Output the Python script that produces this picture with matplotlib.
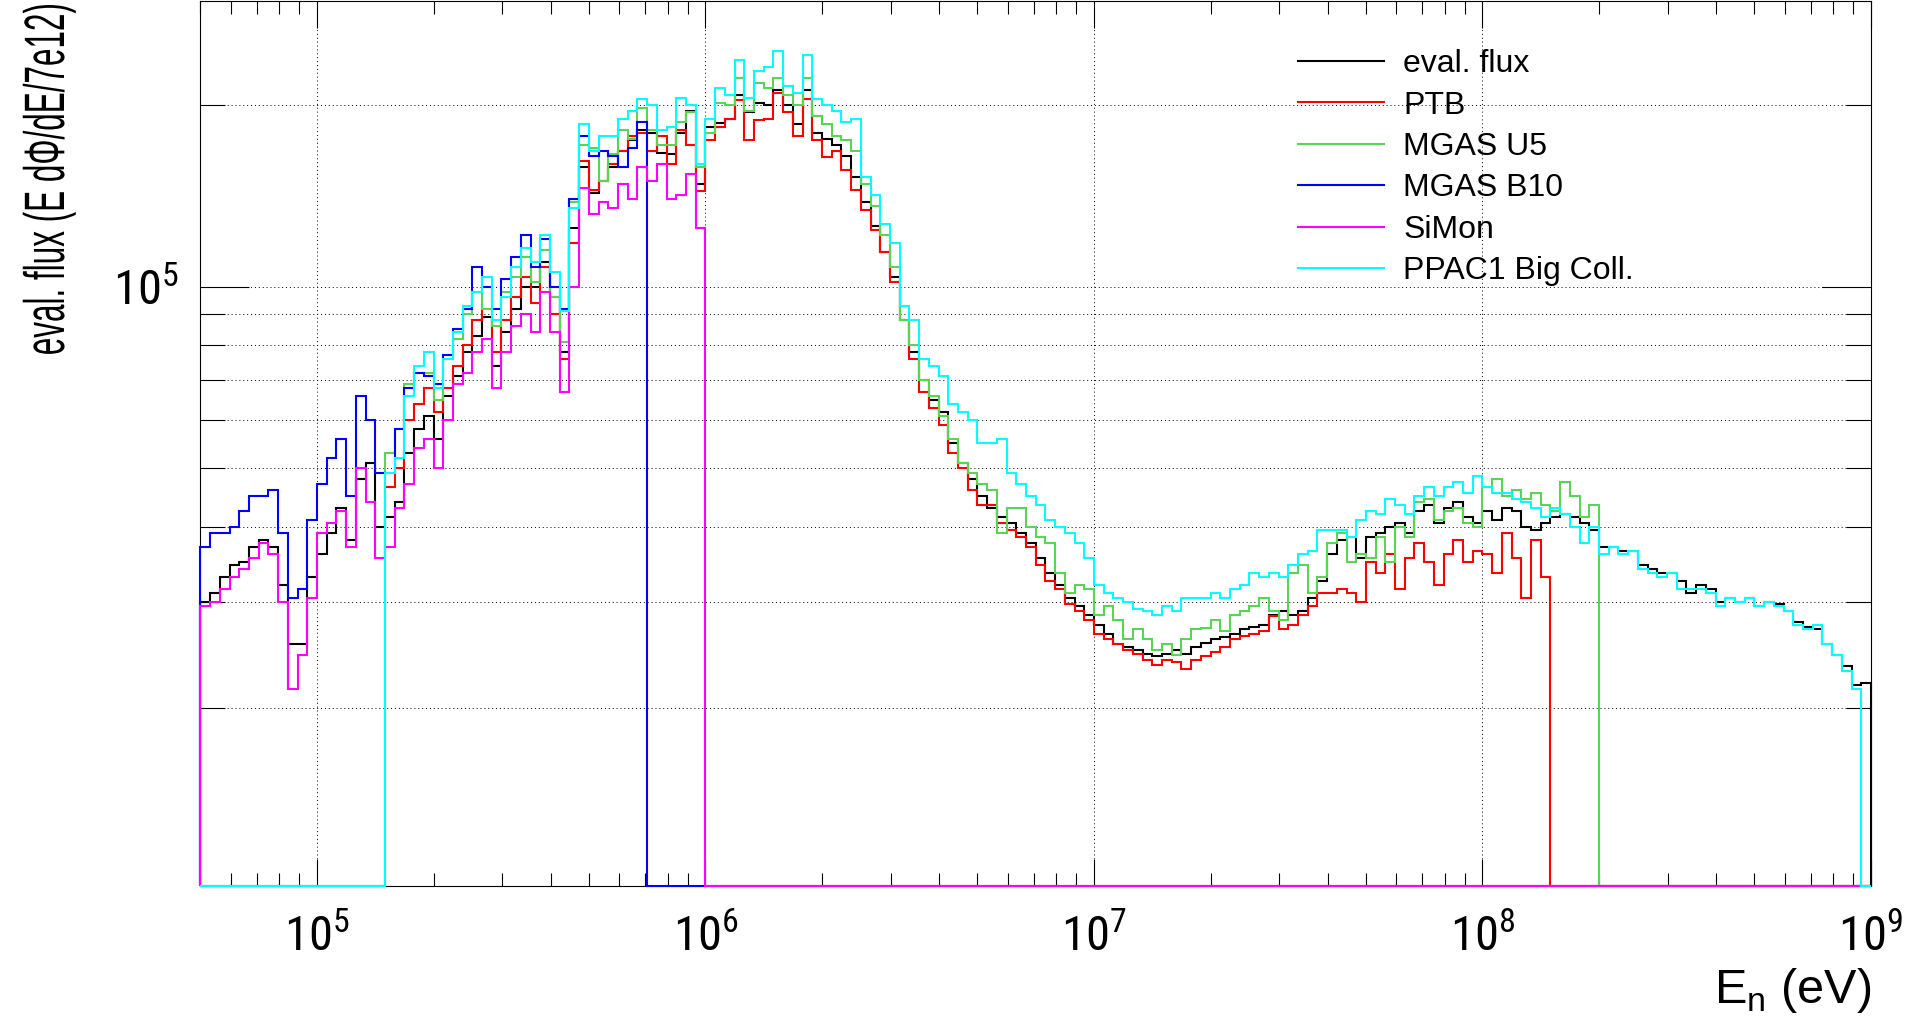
import numpy as np
import matplotlib
matplotlib.use("Agg")
import matplotlib.pyplot as plt
from matplotlib import font_manager
from matplotlib.lines import Line2D
from matplotlib.patheffects import AbstractPathEffect
from matplotlib.transforms import Affine2D

# binning of the flux histograms: 40 log bins per decade, 10^4.7 .. 10^9 eV
first_exp = 4.7
last_exp = 9.0
bins_per_decade = 40

# all flux values below are in units of 1e3
eval_flux = [
    30, 31, 33, 34.5, 35, 37, 38, 37, 32, 25.5, 25.5, 33,
    36, 39, 43, 38, 48, 51, 40, 41.5, 44, 53, 58, 61, 56, 66, 71, 78, 83, 89, 74, 84,
    92, 100, 100, 110, 96, 78, 125, 158, 143, 150, 158, 168, 175, 182, 180, 167, 166, 180, 196, 148,
    184, 187, 190, 208, 195, 202, 200, 212, 200, 186, 212, 180, 176, 172, 165, 152, 138, 126, 114, 104,
    88, 78, 70, 65, 62, 55, 51, 48, 45, 43, 41.5, 40.5, 39, 37.5, 35.5, 33.5, 32, 30.5, 29.5, 28.5,
    27.5, 26.5, 25.5, 25.2, 25, 24.6, 24.4, 24.6, 25, 24.6, 25.2, 25.6, 26, 26.2, 26.5, 27, 27.3, 27.5, 28.5, 29,
    28.5, 29, 30.5, 32.5, 36, 38, 38.5, 35.5, 38.5, 39, 40, 40.5, 39, 42.5, 43.5, 40.5, 43, 44, 41.5, 40.5,
    42.5, 41, 43, 42.5, 40, 39.5, 40.5, 41.5, 42, 41.5, 40.5, 39.5, 37, 37, 36.5, 36.5, 34.5, 34, 33.5, 33.5,
    32.5, 31, 32, 31.5, 30, 30.5, 30, 30.5, 29.5, 30, 29.8, 29, 27.8, 27.3, 27, 25.5, 24.5, 23.5, 21.8, 22,
]

ptb_start = 19
ptb = [
    46.5, 50, 60, 64, 68, 62, 68, 74, 80, 88, 92, 78, 88,
    96, 104, 94, 108, 90, 76, 118, 162, 145, 150, 160, 168, 178, 180, 168, 178, 160, 182, 172, 144,
    175, 184, 190, 204, 175, 189, 190, 210, 195, 178, 205, 175, 164, 168, 156, 145, 134, 124, 114, 102,
    88, 76, 67, 63, 59, 53, 50, 46, 43.5, 43.5, 40.5, 39.5, 38.5, 37, 34.5, 32.5, 31.5, 29.8, 29, 28,
    26.5, 26, 25.5, 25, 24.6, 24, 23.6, 24, 23.8, 23.2, 24, 24.4, 24.8, 25.2, 26, 26.3, 26.5, 26.8, 28.4, 27,
    27.5, 28.5, 29.5, 31, 31, 31.5, 31, 30, 35, 33.5, 36, 31.5, 35.5, 37.5, 35, 32, 36, 38, 35, 36.5,
    36, 33.5, 39, 35.5, 30.5, 38, 33,
]

mgas_u5_start = 19
mgas_u5 = [
    53, 58, 69, 72, 72, 65, 76, 82, 90, 98, 92, 86, 98,
    104, 112, 102, 115, 96, 81, 138, 172, 170, 150, 166, 182, 176, 198, 182, 172, 172, 188, 195, 158,
    180, 202, 200, 222, 196, 218, 214, 222, 208, 200, 222, 192, 186, 178, 175, 168, 148, 136, 122, 108,
    88, 80, 70, 66, 61, 56, 51, 49, 47, 46, 39, 43, 43, 40, 38.5, 37.5, 33.5, 31, 32, 31.5,
    28.5, 29.5, 28, 26, 27, 26, 25, 25.5, 24.5, 26, 27, 27.2, 28, 26.8, 28.5, 29, 29.5, 30.5, 29, 28,
    33.5, 34.5, 31, 33, 37.5, 39, 35, 36, 35.5, 38.5, 35, 40, 38.5, 44, 44.5, 41, 42.5, 43, 40.5, 40,
    46.5, 48, 45, 46, 44.5, 45.5, 43.5, 42.5, 47.5, 45, 41.5, 43.5,
]

mgas_b10_start = 0
mgas_b10 = [
    37, 39, 39, 40, 42.5, 45, 45, 46, 39, 30.5, 31.5, 41,
    47, 52, 56, 45, 66, 60, 49, 49, 58, 68, 72, 71, 69, 77, 85, 92, 108, 100, 92, 103,
    112, 122, 108, 120, 100, 92, 140, 178, 165, 168, 165, 158, 170, 188,
]

simon_start = 0
simon = [
    29.5, 30, 31.5, 33, 34, 35.5, 37.5, 36, 30, 21.5, 24.5, 30.5,
    39, 40.5, 42.5, 37, 50, 44, 35.5, 37, 43, 47, 54, 56, 50, 60, 69, 72, 78, 82, 68, 78,
    86, 90, 84, 98, 84, 67, 100, 146, 132, 138, 135, 148, 140, 158, 150, 160, 140, 142, 154, 125,
]

ppac_start = 19
ppac = [
    49, 52, 66, 74, 78, 68, 76, 84, 93, 98, 104, 88, 96,
    108, 116, 110, 122, 106, 91, 135, 186, 168, 178, 178, 190, 196, 205, 200, 182, 184, 206, 200, 160,
    190, 214, 208, 238, 206, 228, 232, 246, 215, 210, 242, 205, 200, 196, 188, 190, 152, 142, 127, 118,
    93, 88, 76, 74, 71, 64, 62, 60, 55, 55, 56, 49, 47, 45, 43.5, 41, 40, 39, 37.5, 35.5,
    32, 31, 30.5, 30, 29.2, 29, 28.5, 29.5, 29, 30.5, 30.5, 30.5, 31, 30.5, 31.5, 32, 33.5, 33, 33.5, 33,
    34.5, 36, 36.5, 39.5, 39.5, 39.5, 38.5, 41, 42.5, 42, 44.5, 43.5, 42, 45, 46.5, 45, 46.5, 47.5, 45.5, 48.5,
    46.5, 45.5, 45.5, 44.5, 44, 43, 41.5, 43, 42, 40, 37.5, 40, 36, 37, 36, 36.5, 34, 33.5, 33, 33.5,
    31.5, 31.5, 31.5, 31, 29.5, 30.5, 30, 30.5, 29.5, 30, 29.5, 29, 27.5, 27, 27.5, 25.5, 24.5, 23, 21.5,
]

names = ["eval. flux", "PTB", "MGAS U5", "MGAS B10", "SiMon", "PPAC1 Big Coll."]
colors = ["#000000", "#ff0000", "#59d454", "#0000ff", "#ff00ff", "#00ffff"]

x_range = (5e4, 1e9)
y_range = (1.013e4, 2.98e5)


# look for a narrow sans font (the reference uses tall, narrow tick labels)
def find_font(wanted):
    for name, stretch in wanted:
        for f in font_manager.fontManager.ttflist:
            if f.name != name or f.style != "normal":
                continue
            if str(f.weight) not in ("400", "normal", "regular", "book"):
                continue
            if stretch is None or f.stretch == stretch:
                return f
    return None


class Tall(AbstractPathEffect):
    """Draw text glyphs stretched perpendicular to the baseline."""

    def __init__(self, factor):
        super().__init__()
        self.factor = factor

    def draw_path(self, renderer, gc, tpath, affine, rgbFace=None):
        renderer.draw_path(gc, tpath, Affine2D().scale(1, self.factor) + affine, rgbFace)


tick_font = find_font([("Liberation Sans Narrow", None), ("Roboto Condensed", None),
                       ("Noto Sans", "condensed"), ("Noto Sans", "semi-condensed"),
                       ("Open Sans Condensed", None), ("Noto Sans", "extra-condensed")])

plt.rcParams["font.family"] = ["Liberation Sans", "DejaVu Sans"]
plt.rcParams["mathtext.fontset"] = "custom"
plt.rcParams["mathtext.sf"] = "Liberation Sans"
plt.rcParams["mathtext.rm"] = "Liberation Sans"
tick_fs = 32
if tick_font is not None:
    try:
        pat = tick_font.name if tick_font.stretch == "normal" else "%s:stretch=%s" % (tick_font.name, tick_font.stretch)
        plt.rcParams["mathtext.rm"] = pat
        tick_fs = 35
    except Exception:
        pass

n_bins = int(round((last_exp - first_exp) * bins_per_decade))
edges = np.logspace(first_exp, last_exp, n_bins + 1)


def full_hist(values, start):
    out = np.zeros(n_bins)
    out[start:start + len(values)] = values
    return out * 1e3


series = [
    full_hist(eval_flux, 0),
    full_hist(ptb, ptb_start),
    full_hist(mgas_u5, mgas_u5_start),
    full_hist(mgas_b10, mgas_b10_start),
    full_hist(simon, simon_start),
    full_hist(ppac, ppac_start),
]

fig = plt.figure(figsize=(19.13, 10.18), dpi=100)
ax = fig.add_axes([200 / 1913, 1 - 886 / 1018, 1671 / 1913, 885 / 1018])

ymin = y_range[0]
for vals, col in zip(series, colors):
    y = np.where(vals > 0, vals, ymin)
    ax.stairs(y, edges, baseline=ymin, color=col, lw=1.5, clip_on=False, zorder=3)

ax.set_xscale("log")
ax.set_yscale("log")
ax.set_xlim(*x_range)
ax.set_ylim(*y_range)

# ticks
x_major = [1e5, 1e6, 1e7, 1e8, 1e9]
x_minor = [m * 10.0 ** e for e in range(4, 9) for m in range(2, 10) if x_range[0] <= m * 10.0 ** e <= x_range[1]]
ax.set_xticks(x_major, [r"$10^{%d}$" % e for e in range(5, 10)])
ax.set_xticks(x_minor, minor=True)
ax.set_xticklabels([], minor=True)
y_minor = [2e4, 3e4, 4e4, 5e4, 6e4, 7e4, 8e4, 9e4, 2e5]
ax.set_yticks([1e5], [r"$10^{5}$"])
ax.set_yticks(y_minor, minor=True)
ax.set_yticklabels([], minor=True)

ax.tick_params(which="both", direction="in", top=True, right=True, width=0.8, color="k")
ax.tick_params(axis="x", which="major", length=19.5, pad=21, labelsize=tick_fs)
ax.tick_params(axis="x", which="minor", length=9.5)
ax.tick_params(axis="y", which="major", length=35, pad=15, labelsize=tick_fs)
ax.tick_params(axis="y", which="minor", length=18)

ax.grid(True, which="major", axis="x", ls=(0, (1, 3)), color="k", lw=0.7)
ax.grid(True, which="both", axis="y", ls=(0, (1, 3)), color="k", lw=0.7)
for s in ax.spines.values():
    s.set_linewidth(0.8)

# axis titles; the y title is drawn tall and narrow like in the reference
ylab_text = "eval. flux (E d\u03a6/dE/7e12)"
ylab = fig.text(56 / 1913, 1 - 2 / 1018, ylab_text, rotation=90,
                ha="center", va="top", fontsize=23)
renderer = fig.canvas.get_renderer()
ylab_len = ylab.get_window_extent(renderer).height
ylab_fs = 23 * 353 / ylab_len
ylab.set_fontsize(ylab_fs)
ylab.set_path_effects([Tall(41 / ylab_fs)])

fig.text(1871 / 1913, 1 - 1003 / 1018, r"E$_{\mathsf{n}}$ (eV)", ha="right",
         va="baseline", fontsize=35)

handles = [Line2D([], [], color=c, lw=1.5) for c in colors]
fig.legend(handles, names, loc="upper left", bbox_to_anchor=(1298 / 1913, 1 - 49 / 1018),
           frameon=False, fontsize=23, handlelength=2.7, handletextpad=0.6,
           labelspacing=0.36, borderpad=0, borderaxespad=0)

fig.savefig("out.png", dpi=100)
